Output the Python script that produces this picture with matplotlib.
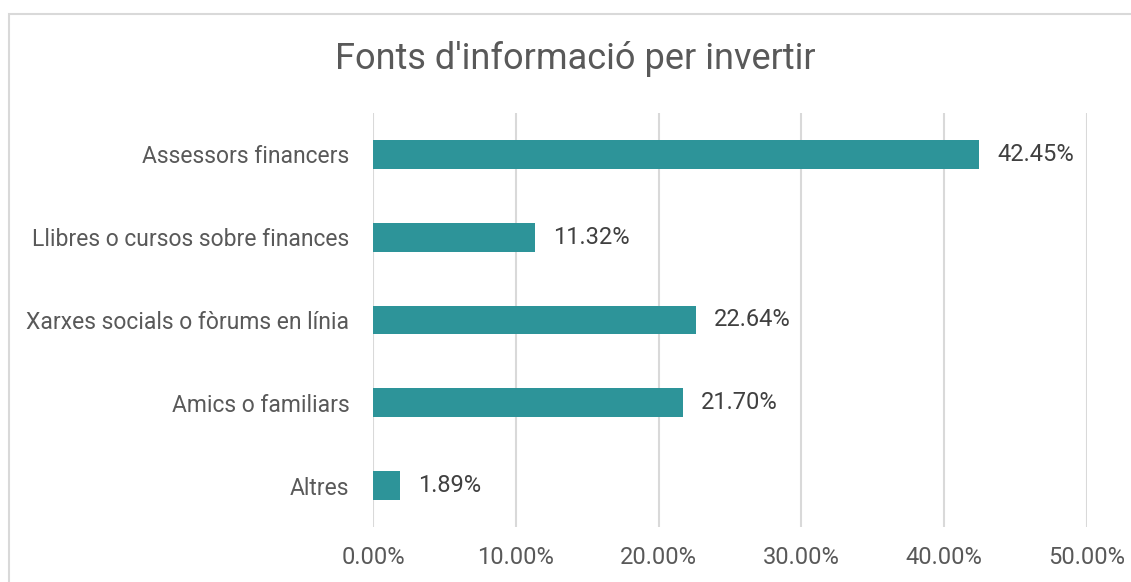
import matplotlib
matplotlib.use("Agg")
import matplotlib.pyplot as plt
from matplotlib.patches import Rectangle
from matplotlib.ticker import FuncFormatter

# Data (top to bottom as shown)
categories = ["Assessors financers", "Llibres o cursos sobre finances",
              "Xarxes socials o fòrums en línia", "Amics o familiars", "Altres"]
values = [42.45, 11.32, 22.64, 21.70, 1.89]
xticks = [0, 10, 20, 30, 40, 50]

bar_color = "#2D9499"
label_color = "#595959"
value_color = "#404040"

plt.rcParams['font.family'] = ['Roboto', 'DejaVu Sans']

W, H = 1131, 582
fig = plt.figure(figsize=(W / 100, H / 100), dpi=100)
ax = fig.add_axes([373 / W, 1 - 527 / H, (1087 - 373) / W, (527 - 113) / H])

# chart border (only top and left visible in the crop)
fig.patches.append(Rectangle((8.5 / W, -0.1), 1.2, 1 - 13.5 / H + 0.1,
                             transform=fig.transFigure, fill=False,
                             edgecolor="#d9d9d9", linewidth=1.5))

ypos = list(range(len(categories)))
ax.barh(ypos, values, height=0.35, color=bar_color, zorder=3)
for y, v in zip(ypos, values):
    ax.annotate(f"{v:.2f}%", (v, y), xytext=(13, 0), textcoords="offset points",
                va="center", ha="left", fontsize=17, color=value_color)

ax.set_xlim(0, 50)
ax.set_ylim(len(categories) - 0.5, -0.5)
ax.set_xticks(xticks)
ax.xaxis.set_major_formatter(FuncFormatter(lambda x, p: f"{x:.2f}%"))
ax.set_yticks(ypos)
ax.set_yticklabels(categories)
ax.tick_params(axis="both", length=0, labelcolor=label_color)
ax.tick_params(axis="y", pad=17, labelsize=16.5)
ax.tick_params(axis="x", pad=14, labelsize=17)
ax.grid(axis="x", color="#d9d9d9", linewidth=1.5, zorder=0)
for s in ax.spines.values():
    s.set_visible(False)

fig.text(575 / W, 1 - 69 / H, "Fonts d'informació per invertir", ha="center",
         va="baseline", fontsize=26, color=label_color)

fig.savefig("out.png", dpi=100)
